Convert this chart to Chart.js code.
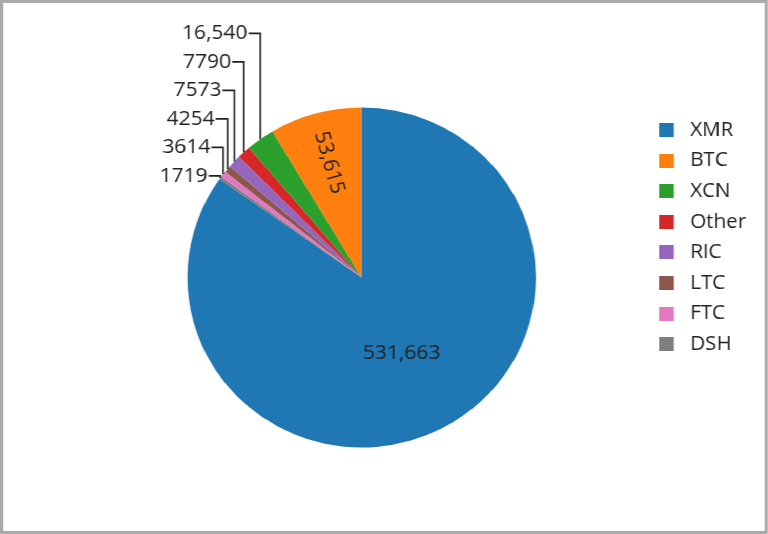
<!DOCTYPE html>
<html>
<head>
<meta charset="utf-8">
<script src="https://cdn.jsdelivr.net/npm/chart.js@4.4.0/dist/chart.umd.min.js"></script>
<style>
html, body { margin: 0; padding: 0; background: #fff; }
#frame {
    width: 749px; height: 534px; box-sizing: border-box;
    border: 3px solid #aaa; background: #fff; overflow: hidden;
    transform: scaleX(1.025); transform-origin: 0 0;
}
canvas { display: block; }
</style>
</head>
<body>
<div id="frame"><canvas id="myChart" width="743" height="528"></canvas></div>
<script>
// coins and payments, in legend order
const coins = ['XMR', 'BTC', 'XCN', 'Other', 'RIC', 'LTC', 'FTC', 'DSH'];
const payments = [531663, 53615, 16540, 7790, 7573, 4254, 3614, 1719];
const colors = ['#1f77b4', '#ff7f0e', '#2ca02c', '#d62728', '#9467bd', '#8c564b', '#e377c2', '#7f7f7f'];

// slices go counterclockwise in the picture, chart.js draws clockwise -> biggest first, then the rest reversed
const order = [0].concat(coins.map((c, i) => i).slice(1).reverse());
const total = payments.reduce((a, b) => a + b, 0);

function fmt(v) {
    return v >= 10000 ? v.toLocaleString('en-US') : String(v);
}

// legend square with some empty room on its right (gap before the text)
function swatch(color) {
    const c = document.createElement('canvas');
    c.width = 20;
    c.height = 14;
    const g = c.getContext('2d');
    g.fillStyle = color;
    g.fillRect(0, 0, 14, 14);
    return c;
}

// value labels: inside for big slices, stacked outside with leader lines for the small ones
const pieLabels = {
    id: 'pieLabels',
    afterDatasetsDraw(chart) {
        const ctx = chart.ctx;
        const meta = chart.getDatasetMeta(0);
        let prevY = null;
        ctx.save();
        ctx.font = '20.5px "Open Sans"';
        ctx.fillStyle = '#222';
        ctx.strokeStyle = '#222';
        ctx.lineWidth = 1.6;
        ctx.textBaseline = 'middle';
        meta.data.forEach((arc, j) => {
            const value = payments[order[j]];
            const p = arc.getProps(['x', 'y', 'startAngle', 'endAngle', 'outerRadius'], true);
            const mid = (p.startAngle + p.endAngle) / 2;
            const text = fmt(value);
            if (value / total > 0.05) {
                const big = value / total > 0.5;
                const k = big ? 0.5 : 0.7;
                ctx.save();
                ctx.translate(p.x + Math.cos(mid) * p.outerRadius * k, p.y + Math.sin(mid) * p.outerRadius * k);
                if (!big) ctx.rotate(mid + Math.PI);
                ctx.textAlign = 'center';
                ctx.fillText(text, 0, 0);
                ctx.restore();
            } else {
                const px = p.x + Math.cos(mid) * p.outerRadius;
                const py = p.y + Math.sin(mid) * p.outerRadius;
                let ly = py - 2;
                if (prevY !== null) ly = Math.min(ly, prevY - 28.5);
                prevY = ly;
                ctx.textAlign = 'right';
                ctx.fillText(text, px - 12.5, ly);
                ctx.beginPath();
                ctx.moveTo(px - 11.5, ly);
                ctx.lineTo(px, ly);
                ctx.lineTo(px, py);
                ctx.stroke();
            }
        });
        ctx.restore();
    }
};

const ctx = document.getElementById('myChart').getContext('2d');
const chart = new Chart(ctx, {
    type: 'pie',
    data: {
        labels: order.map(i => coins[i]),
        datasets: [{
            data: order.map(i => payments[i]),
            backgroundColor: order.map(i => colors[i]),
            borderWidth: 0,
            radius: 170
        }]
    },
    options: {
        responsive: false,
        animation: false,
        layout: { padding: { top: 106.4, bottom: 85.4, left: 69.8, right: 8.2 } },
        plugins: {
            legend: {
                position: 'right',
                align: 'start',
                labels: {
                    usePointStyle: true,
                    pointStyleWidth: 20,
                    boxHeight: 14,
                    padding: 10.6,
                    color: '#222',
                    font: { family: '"Open Sans"', size: 20 },
                    sort: (a, b) => order[a.index] - order[b.index],
                    generateLabels(chart) {
                        const items = Chart.overrides.doughnut.plugins.legend.labels.generateLabels(chart);
                        items.forEach(it => { it.pointStyle = swatch(it.fillStyle); });
                        return items;
                    }
                }
            },
            tooltip: { enabled: false }
        }
    },
    plugins: [pieLabels]
});
</script>
</body>
</html>
